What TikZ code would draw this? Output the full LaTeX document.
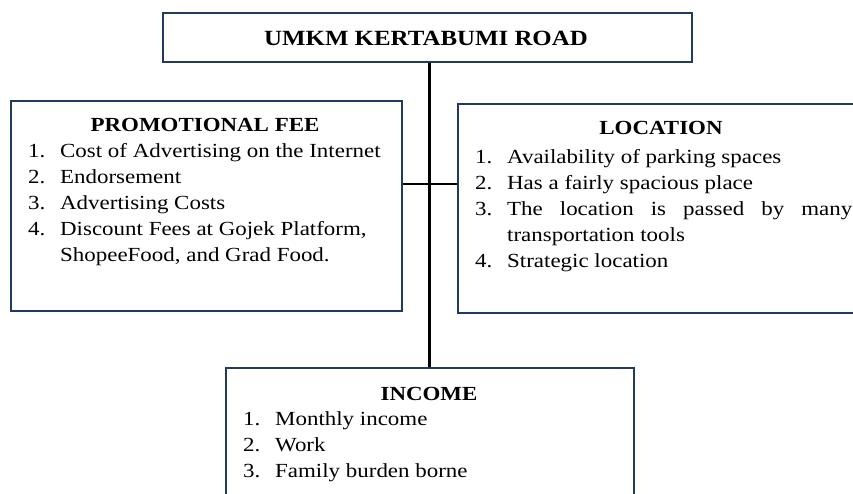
\documentclass[tikz,border=0pt]{standalone}
\usepackage{fontspec}
\setmainfont{Liberation Serif}[FakeStretch=1.147]
\usetikzlibrary{positioning}
\definecolor{boxline}{HTML}{223A5E}

% numbered item with hanging indent
\newcommand{\itm}[2]{\noindent\hangindent=32pt\hangafter=1\makebox[32pt][l]{#1}#2\par}

\begin{document}
\begin{tikzpicture}[x=1pt,y=-1pt,font=\fontsize{20}{26}\selectfont,
    box/.style={draw=boxline,line width=1.6pt,anchor=north west,inner sep=0pt},
    head/.style={font=\fontsize{20}{26}\selectfont\bfseries,anchor=base},
    list/.style={anchor=base west,inner sep=0pt,align=justify,text width=#1},
    conn/.style={line width=2.8pt,black}]
    \useasboundingbox (0,0) rectangle (853,494);

    % boxes
    \node[box,minimum width=529pt,minimum height=49pt] (umkm) at (162,12) {};
    \node[box,minimum width=391pt,minimum height=210pt] (promo) at (10,100) {};
    \node[box,minimum width=412pt,minimum height=209pt] (loc) at (457,103) {};
    \node[box,minimum width=408pt,minimum height=150pt] (income) at (225,367) {};

    % lines
    \coordinate (hub) at (430,184);
    \draw[conn] (income.north) -- (income.north |- umkm.south);
    \draw[conn] (promo.east |- hub) -- (loc.west |- hub);

    % texts
    \node[head,font=\fontsize{21.7}{26}\selectfont\bfseries] (umkm-head) at (426,46) {UMKM KERTABUMI ROAD};

    \node[head] (promo-head) at (205,132) {PROMOTIONAL FEE};
    \node[list=368pt] (promo-list) at (28,158) {%
        \itm{1.}{Cost of Advertising on the Internet}
        \itm{2.}{Endorsement}
        \itm{3.}{Advertising Costs}
        \itm{4.}{Discount Fees at Gojek Platform,\hfil\break ShopeeFood, and Grad Food.}};

    \node[head] (loc-head) at (661,135) {LOCATION};
    \node[list=377pt] (loc-list) at (475,164) {%
        \itm{1.}{Availability of parking spaces}
        \itm{2.}{Has a fairly spacious place}
        \itm{3.}{The location is passed by many\linebreak transportation tools}
        \itm{4.}{Strategic location}};

    \node[head] (income-head) at (429,400) {INCOME};
    \node[list=380pt] (income-list) at (243,425) {%
        \itm{1.}{Monthly income}
        \itm{2.}{Work}
        \itm{3.}{Family burden borne}};
\end{tikzpicture}
\end{document}
